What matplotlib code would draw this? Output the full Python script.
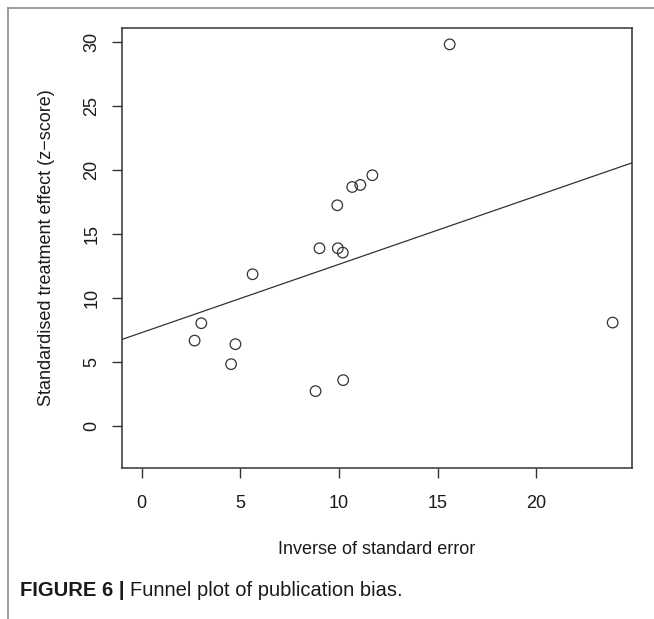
import numpy as np
import matplotlib
matplotlib.use("Agg")
import matplotlib.pyplot as plt
from matplotlib.lines import Line2D

# values
inv_se = [5.62, 3.02, 2.68, 4.75, 4.53, 8.81, 10.21, 15.61,
          11.69, 11.08, 10.67, 9.91, 9.01, 9.94, 10.19, 23.87]
z_score = [11.85, 8.02, 6.66, 6.38, 4.82, 2.71, 3.57, 29.82,
           19.59, 18.83, 18.67, 17.24, 13.88, 13.88, 13.54, 8.07]
x_ticks = [0, 5, 10, 15, 20]
y_ticks = [0, 5, 10, 15, 20, 25, 30]

plt.rcParams['font.family'] = ['Liberation Sans', 'DejaVu Sans']

W, H = 654, 619
fig = plt.figure(figsize=(W / 100, H / 100), dpi=100)

# axes box in pixels: left 122, right 632, top 28, bottom 468
ax = fig.add_axes([122 / W, 1 - 468 / H, 510 / W, 440 / H])

dark = '#333333'
ax.scatter(inv_se, z_score, s=58, facecolors='none', edgecolors=dark, linewidths=0.9, zorder=3)

# least squares line of z on precision (Egger style)
slope, icpt = np.polyfit(inv_se, z_score, 1)
ax.axline((0, icpt), slope=slope, color=dark, lw=0.9)

ax.set_xlim(-1.0, 24.85)
ax.set_ylim(-3.3, 31.1)
ax.set_xticks(x_ticks)
ax.set_yticks(y_ticks)
ax.tick_params(direction='out', length=7.5, width=1.0, color=dark,
               labelsize=13, labelcolor='#1a1a1a')
ax.tick_params(axis='x', pad=12)
ax.tick_params(axis='y', pad=8)
for lab in ax.get_yticklabels():
    lab.set_rotation(90)
    lab.set_va('center')
for sp in ax.spines.values():
    sp.set_color(dark)
    sp.set_linewidth(1.1)

fig.text(377 / W, 1 - 549 / H, 'Inverse of standard error', ha='center', va='center',
         fontsize=13, color='#1a1a1a')
fig.text(47 / W, 1 - 248 / H, 'Standardised treatment effect (z\u2212score)', ha='center',
         va='center', rotation=90, fontsize=13, color='#1a1a1a')

# page frame lines around the figure
fig.add_artist(Line2D([8 / W, 1], [1 - 8 / H, 1 - 8 / H], transform=fig.transFigure,
                      color='#8c8c8c', lw=1.2))
fig.add_artist(Line2D([8 / W, 8 / W], [0, 1 - 8 / H], transform=fig.transFigure,
                      color='#8c8c8c', lw=1.2))

cap_font = ['Liberation Sans Narrow', 'Liberation Sans', 'DejaVu Sans']
t = fig.text(20 / W, 1 - 591 / H, 'FIGURE 6 |', ha='left', va='center', fontsize=14.5,
             fontweight='bold', family=cap_font, color='#1a1a1a')
fig.canvas.draw()
bb = t.get_window_extent()
fig.text((bb.x1 + 5) / W, 1 - 591 / H, 'Funnel plot of publication bias.', ha='left',
         va='center', fontsize=14.5, family=cap_font, color='#1a1a1a')

fig.savefig('out.png', dpi=100)
